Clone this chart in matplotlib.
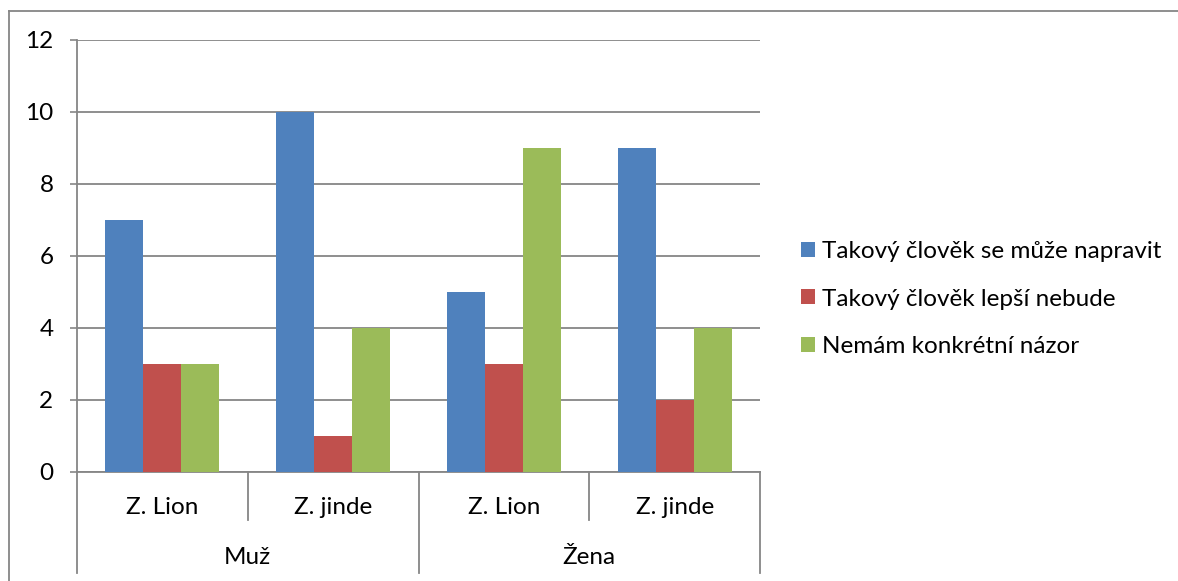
import numpy as np
import matplotlib
matplotlib.use("Agg")
import matplotlib.pyplot as plt
from matplotlib.lines import Line2D
from matplotlib.transforms import blended_transform_factory

plt.rcParams['font.family'] = ['Lato', 'DejaVu Sans']

# ── Data ──────────────────────────────────────────────────────────────────────
groups = ["Muž", "Žena"]
subcats = ["Z. Lion", "Z. jinde", "Z. Lion", "Z. jinde"]
series = ["Takový člověk se může napravit",
          "Takový člověk lepší nebude",
          "Nemám konkrétní názor"]
napravit = [7, 10, 5, 9]
lepsi_nebude = [3, 1, 3, 2]
nemam_nazor = [3, 4, 9, 4]
yticks = [0, 2, 4, 6, 8, 10, 12]

colors = ["#4F81BD", "#C0504D", "#9BBB59"]
GRAY = "#868686"
W, H = 1178, 581
FS = 17.5

fig = plt.figure(figsize=(W / 100, H / 100), dpi=100)
ax = fig.add_axes([77 / W, 1 - 472 / H, (760 - 77) / W, (472 - 40) / H])
ax_h = 472 - 40  # axes height in px

x = np.arange(len(subcats))
bw = 1 / 4.5
for i, (vals, name) in enumerate(zip([napravit, lepsi_nebude, nemam_nazor], series)):
    ax.bar(x + (i - 1) * bw, vals, bw, color=colors[i], label=name, zorder=3)

ax.set_xlim(-0.5, len(subcats) - 0.5)
ax.set_ylim(0, 12)
ax.set_yticks(yticks)
ax.yaxis.grid(True, color=GRAY, linewidth=1.3, zorder=0)
ax.tick_params(axis='y', length=5, width=1.2, color=GRAY, pad=12, labelsize=FS)
ax.set_xticks([])
for s in ["top", "right"]:
    ax.spines[s].set_visible(False)
for s in ["left", "bottom"]:
    ax.spines[s].set_color(GRAY)
    ax.spines[s].set_linewidth(1.3)

# ── Multi-level category axis ────────────────────────────────────────────────
tr = blended_transform_factory(ax.transData, ax.transAxes)
for k in range(len(subcats) + 1):
    xb = k - 0.5
    depth = 101 if k % 2 == 0 else 48
    ax.add_line(Line2D([xb, xb], [0, -depth / ax_h], transform=tr, color=GRAY,
                       linewidth=1.3, clip_on=False))
for k, lab in enumerate(subcats):
    ax.text(k, -35 / ax_h, lab, transform=tr, ha='center', va='center', fontsize=FS)
for g, lab in enumerate(groups):
    ax.text(2 * g + 0.5, -85 / ax_h, lab, transform=tr, ha='center', va='center',
            fontsize=FS)

# ── Legend ───────────────────────────────────────────────────────────────────
px = FS * 100 / 72
fig.legend(loc='center left', bbox_to_anchor=(801 / W, 1 - 299 / H), frameon=False,
           fontsize=FS, handlelength=14 / px, handleheight=14 / px,
           handletextpad=7 / px, labelspacing=(50.5 - px) / px,
           borderpad=0, borderaxespad=0)

# ── Outer chart frame (cropped at right and bottom) ──────────────────────────
fig.add_artist(Line2D([9 / W, 9 / W], [0, 1 - 11 / H], color=GRAY, linewidth=1.3))
fig.add_artist(Line2D([9 / W, 1], [1 - 11 / H, 1 - 11 / H], color=GRAY, linewidth=1.3))

fig.savefig("out.png", dpi=100)
